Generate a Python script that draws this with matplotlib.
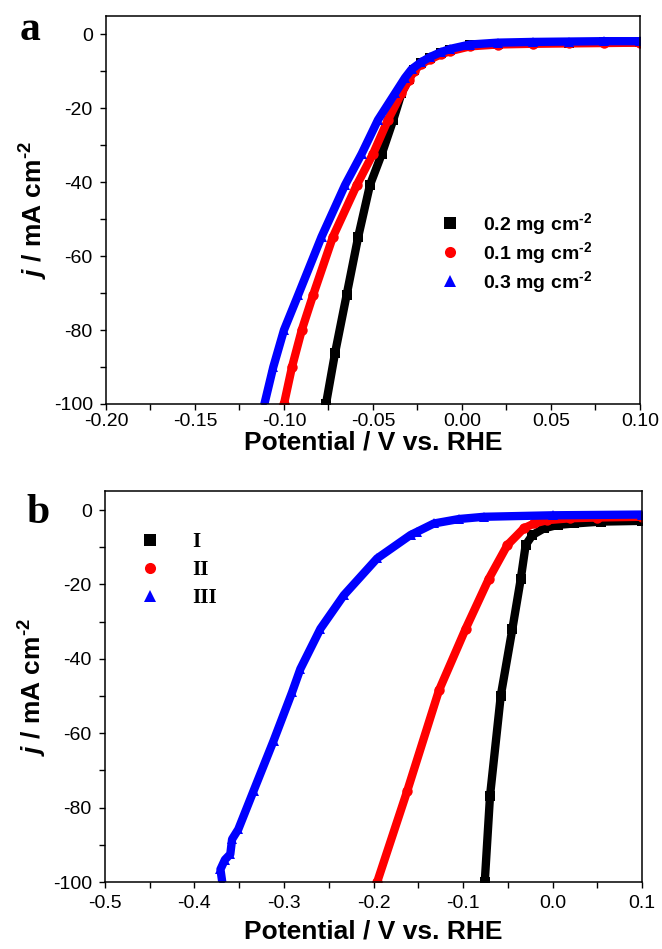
"""
LSV polarization curves, two panels (a: catalyst loading, b: samples I-III).
"""
import matplotlib
matplotlib.use("Agg")
import matplotlib.pyplot as plt
from matplotlib.ticker import MultipleLocator

SUP = "$^{\u20102}$"  # superscript "-2" drawn with a short hyphen

# ---- panel a data (potential V vs RHE, current density mA cm-2) ----
a_labels = ["0.2 mg cm" + SUP, "0.1 mg cm" + SUP, "0.3 mg cm" + SUP]

a_v_02 = [-0.0764, -0.0713, -0.0648, -0.0583, -0.0517, -0.045, -0.0386, -0.034,
          -0.030, -0.027, -0.023, -0.018, -0.0120, -0.0067, 0.0045, 0.02, 0.04, 0.06, 0.08, 0.10]
a_j_02 = [-100, -86.2, -70.5, -54.8, -40.8, -32.3, -23.2, -16.0,
          -12.2, -9.7, -7.8, -6.4, -5.2, -4.3, -3.0, -2.6, -2.4, -2.3, -2.2, -2.2]

a_v_01 = [-0.100, -0.0955, -0.090, -0.0836, -0.0725, -0.0591, -0.0499, -0.0416, -0.034,
          -0.030, -0.027, -0.023, -0.018, -0.0120, -0.0067, 0.0045, 0.02, 0.04, 0.06, 0.08, 0.10]
a_j_01 = [-100, -90, -80, -70.5, -54.8, -40.8, -32.3, -23.2, -16.0,
          -12.5, -10.0, -8.1, -6.8, -5.5, -4.6, -3.3, -2.8, -2.6, -2.5, -2.4, -2.3]

a_v_03 = [-0.111, -0.106, -0.100, -0.092, -0.0789, -0.0657, -0.0563, -0.0472, -0.0376,
          -0.032, -0.0283, -0.023, -0.018, -0.0120, -0.0067, 0.0045, 0.02, 0.04, 0.06, 0.08, 0.10]
a_j_03 = [-100, -90, -80, -70.5, -54.8, -40.8, -32.3, -23.2, -16.0,
          -11.8, -9.5, -7.6, -6.2, -4.9, -4.0, -2.8, -2.3, -2.1, -2.0, -1.9, -1.9]

# ---- panel b data ----
b_labels = ["I", "II", "III"]

b_v_1 = [-0.0757, -0.0698, -0.0578, -0.0448, -0.0354, -0.030, -0.0224, -0.0094,
         0.0056, 0.024, 0.054, 0.10]
b_j_1 = [-100, -76.8, -49.9, -31.9, -18.4, -9.4, -6.7, -4.9,
         -4.0, -3.6, -3.1, -2.9]

b_v_2 = [-0.1959, -0.1623, -0.1269, -0.097, -0.071, -0.0504, -0.032, -0.0205,
         -0.0056, 0.02, 0.05, 0.10]
b_j_2 = [-100, -75.5, -48.5, -31.9, -18.4, -9.4, -4.9, -3.6,
         -2.7, -2.2, -2.0, -1.8]

b_v_3 = [-0.369, -0.371, -0.366, -0.360, -0.358, -0.351, -0.334, -0.3116,
         -0.291, -0.2817, -0.2593, -0.2332, -0.196, -0.1586, -0.151, -0.1325,
         -0.1045, -0.0765, 0.0, 0.10]
b_j_3 = [-100, -96.6, -94.0, -92.5, -88.5, -85.8, -75.5, -62.0,
         -49.0, -42.7, -31.9, -22.9, -13.0, -6.7, -5.8, -3.6,
         -2.4, -1.8, -1.4, -1.2]

colors = ["#000000", "#ff0000", "#0000ff"]
markers = ["s", "o", "^"]

plt.rcParams["font.family"] = ["Liberation Sans", "DejaVu Sans"]
plt.rcParams["mathtext.fontset"] = "custom"
plt.rcParams["mathtext.rm"] = "Liberation Sans:bold"
plt.rcParams["mathtext.bf"] = "Liberation Sans:bold"
plt.rcParams["mathtext.it"] = "Liberation Sans:bold:italic"
plt.rcParams["axes.unicode_minus"] = False

fig = plt.figure(figsize=(6.62, 9.49), dpi=100)
ax_a = fig.add_axes([0.1601, 0.5743, 0.8066, 0.4092])
ax_b = fig.add_axes([0.1586, 0.0706, 0.8112, 0.4115])


def style_axes(ax, xlim, xmajor, xminor, xtickpad, xlabelpad):
    ax.set_xlim(*xlim)
    ax.set_ylim(-100, 5)
    ax.xaxis.set_major_locator(MultipleLocator(xmajor))
    ax.xaxis.set_minor_locator(MultipleLocator(xminor))
    ax.yaxis.set_major_locator(MultipleLocator(20))
    ax.yaxis.set_minor_locator(MultipleLocator(10))
    ax.tick_params(which="both", direction="out", top=False, right=False,
                   length=4.5, width=1.0, labelsize=14)
    ax.tick_params(axis="x", pad=xtickpad)
    ax.tick_params(axis="y", pad=5)
    for sp in ax.spines.values():
        sp.set_linewidth(1.1)
    ax.set_xlabel("Potential / V vs. RHE", fontsize=19, fontweight="bold", labelpad=xlabelpad)
    ax.set_ylabel("$j$ / mA cm" + SUP, fontsize=19, fontweight="bold", labelpad=3)


def draw(ax, xs, ys, labels):
    for x, y, lab, c, m in zip(xs, ys, labels, colors, markers):
        ax.plot(x, y, color=c, lw=6, marker=m, ms=7.5, mew=0,
                solid_capstyle="round", solid_joinstyle="round", label=lab)


# panel a
draw(ax_a, [a_v_02, a_v_01, a_v_03], [a_j_02, a_j_01, a_j_03], a_labels)
style_axes(ax_a, (-0.20, 0.10), 0.05, 0.025, 2, 0)
ax_a.xaxis.set_major_formatter(plt.FuncFormatter(lambda v, p: f"{v:.2f}"))
h = [plt.Line2D([], [], ls="none", marker=m, ms=8, color=c, mew=0) for m, c in zip(markers, colors)]
ax_a.legend(h, a_labels, loc="upper left", bbox_to_anchor=(0.6255, 0.497), frameon=False,
            prop={"weight": "bold", "size": 14}, handlelength=1.0, handletextpad=1.2,
            labelspacing=0.15, borderpad=0, borderaxespad=0)
fig.text(0.030, 0.958, "a", fontsize=30, fontweight="bold", family="Liberation Serif")

# panel b
draw(ax_b, [b_v_1, b_v_2, b_v_3], [b_j_1, b_j_2, b_j_3], b_labels)
style_axes(ax_b, (-0.5, 0.1), 0.1, 0.05, 5, 5)
ax_b.xaxis.set_major_formatter(plt.FuncFormatter(lambda v, p: f"{v:.1f}"))
h = [plt.Line2D([], [], ls="none", marker=m, ms=8, color=c, mew=0) for m, c in zip(markers, colors)]
ax_b.legend(h, b_labels, loc="upper left", bbox_to_anchor=(0.065, 0.895), frameon=False,
            prop={"family": "Liberation Serif", "weight": "bold", "size": 15},
            handlelength=1.0, handletextpad=1.5, labelspacing=0.38,
            borderpad=0, borderaxespad=0)
fig.text(0.040, 0.449, "b", fontsize=30, fontweight="bold", family="Liberation Serif")

fig.savefig("out.png", dpi=100)
